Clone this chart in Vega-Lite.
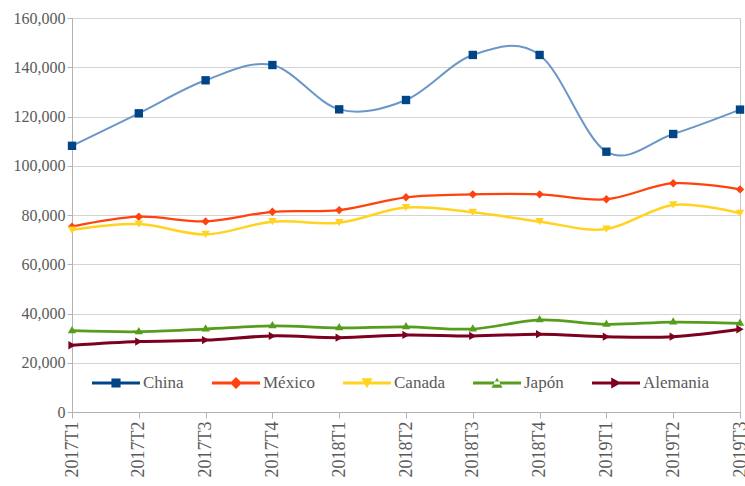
{
  "$schema": "https://vega.github.io/schema/vega-lite/v6.json",
  "autosize": "none",
  "width": 668,
  "height": 394,
  "padding": {"left": 72, "top": 18, "right": 5, "bottom": 74},
  "background": "white",
  "config": {
    "font": "Liberation Serif, Times New Roman, serif",
    "view": {"stroke": "#c8c8c8", "strokeWidth": 1},
    "axis": {"labelFont": "Liberation Serif, Times New Roman, serif", "labelColor": "#5a5a5a", "domainColor": "#b3b3b3", "tickColor": "#b3b3b3", "gridColor": "#d4d4d4"},
    "legend": {"labelFont": "Liberation Serif, Times New Roman, serif"}
  },
  "data": {"values": [
    {"q": "2017T1", "country": "China", "value": 108100},
    {"q": "2017T2", "country": "China", "value": 121300},
    {"q": "2017T3", "country": "China", "value": 134700},
    {"q": "2017T4", "country": "China", "value": 140900},
    {"q": "2018T1", "country": "China", "value": 122900},
    {"q": "2018T2", "country": "China", "value": 126700},
    {"q": "2018T3", "country": "China", "value": 145000},
    {"q": "2018T4", "country": "China", "value": 145000},
    {"q": "2019T1", "country": "China", "value": 105700},
    {"q": "2019T2", "country": "China", "value": 112900},
    {"q": "2019T3", "country": "China", "value": 122800},
    {"q": "2017T1", "country": "México", "value": 75300},
    {"q": "2017T2", "country": "México", "value": 79300},
    {"q": "2017T3", "country": "México", "value": 77400},
    {"q": "2017T4", "country": "México", "value": 81300},
    {"q": "2018T1", "country": "México", "value": 82000},
    {"q": "2018T2", "country": "México", "value": 87200},
    {"q": "2018T3", "country": "México", "value": 88400},
    {"q": "2018T4", "country": "México", "value": 88400},
    {"q": "2019T1", "country": "México", "value": 86400},
    {"q": "2019T2", "country": "México", "value": 92900},
    {"q": "2019T3", "country": "México", "value": 90400},
    {"q": "2017T1", "country": "Canada", "value": 73900},
    {"q": "2017T2", "country": "Canada", "value": 76300},
    {"q": "2017T3", "country": "Canada", "value": 72100},
    {"q": "2017T4", "country": "Canada", "value": 77300},
    {"q": "2018T1", "country": "Canada", "value": 76900},
    {"q": "2018T2", "country": "Canada", "value": 83000},
    {"q": "2018T3", "country": "Canada", "value": 81100},
    {"q": "2018T4", "country": "Canada", "value": 77300},
    {"q": "2019T1", "country": "Canada", "value": 74300},
    {"q": "2019T2", "country": "Canada", "value": 84100},
    {"q": "2019T3", "country": "Canada", "value": 80700},
    {"q": "2017T1", "country": "Japón", "value": 33000},
    {"q": "2017T2", "country": "Japón", "value": 32600},
    {"q": "2017T3", "country": "Japón", "value": 33700},
    {"q": "2017T4", "country": "Japón", "value": 35000},
    {"q": "2018T1", "country": "Japón", "value": 34200},
    {"q": "2018T2", "country": "Japón", "value": 34600},
    {"q": "2018T3", "country": "Japón", "value": 33700},
    {"q": "2018T4", "country": "Japón", "value": 37400},
    {"q": "2019T1", "country": "Japón", "value": 35600},
    {"q": "2019T2", "country": "Japón", "value": 36500},
    {"q": "2019T3", "country": "Japón", "value": 36000},
    {"q": "2017T1", "country": "Alemania", "value": 27100},
    {"q": "2017T2", "country": "Alemania", "value": 28600},
    {"q": "2017T3", "country": "Alemania", "value": 29200},
    {"q": "2017T4", "country": "Alemania", "value": 30900},
    {"q": "2018T1", "country": "Alemania", "value": 30200},
    {"q": "2018T2", "country": "Alemania", "value": 31300},
    {"q": "2018T3", "country": "Alemania", "value": 30900},
    {"q": "2018T4", "country": "Alemania", "value": 31600},
    {"q": "2019T1", "country": "Alemania", "value": 30600},
    {"q": "2019T2", "country": "Alemania", "value": 30600},
    {"q": "2019T3", "country": "Alemania", "value": 33600}
  ]},
  "encoding": {
    "x": {"field": "q", "type": "ordinal", "scale": {"type": "point", "padding": 0},
      "axis": {"title": null, "labelAngle": -90, "labelFontSize": 18, "grid": false, "tickSize": 6, "labelPadding": 3}},
    "y": {"field": "value", "type": "quantitative", "scale": {"domain": [0, 160000]},
      "axis": {"title": null, "format": ",d", "values": [0, 20000, 40000, 60000, 80000, 100000, 120000, 140000, 160000], "labelFontSize": 16, "tickSize": 5, "labelPadding": 2}}
  },
  "layer": [
    {
      "mark": {"type": "line", "interpolate": "cardinal"},
      "encoding": {
        "color": {"field": "country", "type": "nominal", "legend": null,
          "scale": {"domain": ["China", "México", "Canada", "Japón", "Alemania"], "range": ["#6b96c8", "#ff420e", "#ffd320", "#579d1c", "#7e0021"]}},
        "strokeWidth": {"field": "country", "type": "nominal", "legend": null,
          "scale": {"domain": ["China", "México", "Canada", "Japón", "Alemania"], "range": [2, 3, 3, 3, 3]}}
      }
    },
    {
      "mark": {"type": "point", "filled": true, "opacity": 1, "size": 70},
      "encoding": {
        "color": {"field": "country", "type": "nominal", "legend": null,
          "scale": {"domain": ["China", "México", "Canada", "Japón", "Alemania"], "range": ["#004586", "#ff420e", "#ffd320", "#579d1c", "#7e0021"]}},
        "shape": {"field": "country", "type": "nominal", "legend": null,
          "scale": {"domain": ["China", "México", "Canada", "Japón", "Alemania"], "range": ["square", "diamond", "triangle-down", "triangle", "triangle-right"]}}
      }
    },
    {
      "transform": [{"filter": "datum.value < 0"}],
      "mark": {"type": "point", "filled": true, "opacity": 1},
      "encoding": {
        "color": {"field": "country", "type": "nominal",
          "scale": {"domain": ["China", "México", "Canada", "Japón", "Alemania"], "range": ["#004586", "#ff420e", "#ffd320", "#579d1c", "#7e0021"]},
          "legend": {"title": null, "orient": "none", "direction": "horizontal", "legendX": 20, "legendY": 341,
            "symbolSize": 2304, "symbolStrokeWidth": 0, "labelFontSize": 17, "labelColor": "#5a5a5a", "labelOffset": 3, "columnPadding": 28}},
        "shape": {"field": "country", "type": "nominal",
          "scale": {"domain": ["China", "México", "Canada", "Japón", "Alemania"], "range": [
            "M-1,-0.06H1V0.06H-1ZM-0.19,-0.19H0.19V0.19H-0.19Z",
            "M-1,-0.06H1V0.06H-1ZM0,-0.25L0.25,0L0,0.25L-0.25,0Z",
            "M-1,-0.06H1V0.06H-1ZM-0.23,-0.2L0.23,-0.2L0,0.22Z",
            "M-1,-0.06H1V0.06H-1ZM-0.23,0.2L0.23,0.2L0,-0.22Z",
            "M-1,-0.06H1V0.06H-1ZM-0.2,-0.23L0.22,0L-0.2,0.23Z"
          ]}}
      }
    }
  ],
  "resolve": {"scale": {"color": "independent", "shape": "independent"}}
}
